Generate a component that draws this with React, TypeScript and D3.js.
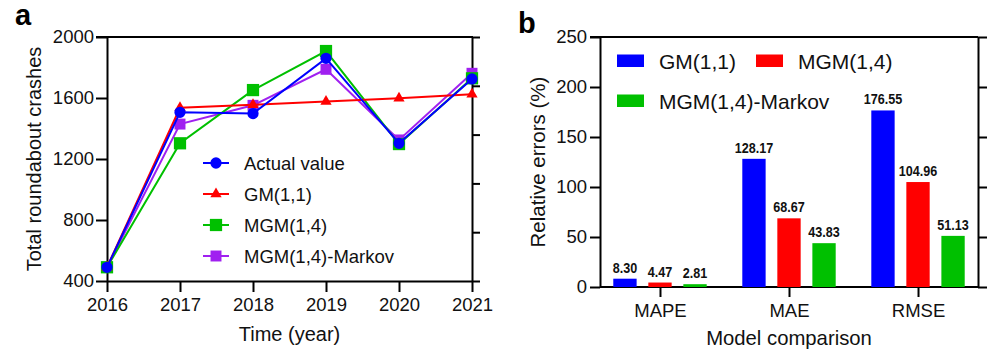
import * as d3 from 'd3';
import React, { useEffect, useRef } from 'react';

// panel a: crashes per year
const years = [2016, 2017, 2018, 2019, 2020, 2021];
const actualValue = [490, 1506, 1498, 1860, 1303, 1725];
const gm11 = [490, 1536, 1556, 1577, 1598, 1624];
const mgm14 = [490, 1303, 1652, 1908, 1298, 1729];
const mgmMarkov = [490, 1429, 1552, 1788, 1325, 1762];
const crashTicks = [400, 800, 1200, 1600, 2000];

// panel b: error metrics
const metrics = ['MAPE', 'MAE', 'RMSE'];
const gmErrors = [8.30, 128.17, 176.55];
const mgmErrors = [4.47, 68.67, 104.96];
const markovErrors = [2.81, 43.83, 51.13];
const errorTicks = [0, 50, 100, 150, 200, 250];

const FONT = "'Liberation Sans', Arial, Helvetica, sans-serif";

const BLUE = '#0000ff';
const RED = '#ff0000';
const GREEN = '#00c000';
const PURPLE = '#a020f0';

export default () => {
    const ref = useRef<any>();

    function styleAxis(g: any, size: number): void {
        g.attr('font-family', FONT);
        g.selectAll('path, line').attr('stroke', '#000').attr('stroke-width', 2);
        g.selectAll('text').attr('font-size', size).attr('font-family', FONT).attr('fill', '#111');
    }

    function drawLines(svg: any): void {
        const x = d3.scaleLinear().domain([2016, 2021]).range([107, 472]);
        const y = d3.scaleLinear().domain([400, 2000]).range([281, 37]);
        const yRight = d3.scaleLinear().domain([0, 5]).range([281, 37]);

        const stage = svg.append('g');

        // top frame + unlabeled right axis
        stage.append('line')
            .attr('x1', x(2016) - 11).attr('x2', x(2021) + 1)
            .attr('y1', y(2000)).attr('y2', y(2000))
            .attr('stroke', '#000').attr('stroke-width', 2);
        stage.append('g')
            .attr('transform', `translate(${x(2021)},0)`)
            .call(d3.axisRight(yRight).ticks(5).tickSize(8).tickSizeOuter(0).tickFormat(() => ''))
            .call((g: any) => styleAxis(g, 18));

        stage.append('g')
            .attr('transform', `translate(${x(2016)},0)`)
            .call(d3.axisLeft(y).tickValues(crashTicks).tickFormat(d3.format('d')).tickSize(11).tickPadding(2).tickSizeOuter(0))
            .call((g: any) => styleAxis(g, 18.5));

        stage.append('g')
            .attr('transform', `translate(0,${y(400)})`)
            .call(d3.axisBottom(x).tickValues(years).tickFormat(d3.format('d')).tickSize(11).tickPadding(6).tickSizeOuter(0))
            .call((g: any) => styleAxis(g, 18.5));

        stage.append('text')
            .attr('transform', `translate(41,${(y(400) + y(2000)) / 2}) rotate(-90)`)
            .attr('text-anchor', 'middle')
            .attr('font-family', FONT).attr('font-size', 20).attr('fill', '#111')
            .text('Total roundabout crashes');
        stage.append('text')
            .attr('x', (x(2016) + x(2021)) / 2).attr('y', 341)
            .attr('text-anchor', 'middle')
            .attr('font-family', FONT).attr('font-size', 20).attr('fill', '#111')
            .text('Time (year)');
        stage.append('text')
            .attr('x', 15).attr('y', 25)
            .attr('font-family', FONT).attr('font-size', 29).attr('font-weight', 'bold')
            .text('a');

        const series = [
            { name: 'Actual value', values: actualValue, color: BLUE, symbol: d3.symbolCircle, size: 100 },
            { name: 'GM(1,1)', values: gm11, color: RED, symbol: d3.symbolTriangle, size: 55 },
            { name: 'MGM(1,4)', values: mgm14, color: GREEN, symbol: d3.symbolSquare, size: 150 },
            { name: 'MGM(1,4)-Markov', values: mgmMarkov, color: PURPLE, symbol: d3.symbolSquare, size: 120 },
        ];

        const line = d3.line<number>().x((d, i) => x(years[i])).y((d) => y(d));

        // draw back to front so the actual value sits on top
        series.slice().reverse().forEach((s) => {
            const g = stage.append('g');
            g.append('path')
                .attr('d', line(s.values))
                .attr('fill', 'none')
                .attr('stroke', s.color)
                .attr('stroke-width', 2);
            g.selectAll('.mark').data(s.values).join('path')
                .attr('class', 'mark')
                .attr('transform', (d: number, i: number) => `translate(${x(years[i])},${y(d)})`)
                .attr('d', d3.symbol().type(s.symbol).size(s.size)())
                .attr('fill', s.color);
        });

        const legend = stage.append('g').attr('transform', 'translate(203,163)');
        series.forEach((s, i) => {
            const row = legend.append('g').attr('transform', `translate(0,${i * 31})`);
            row.append('line').attr('x1', 0).attr('x2', 26).attr('stroke', s.color).attr('stroke-width', 2);
            row.append('path')
                .attr('transform', 'translate(13,0)')
                .attr('d', d3.symbol().type(s.symbol).size(s.size)())
                .attr('fill', s.color);
            row.append('text')
                .attr('x', 41).attr('y', 6.5)
                .attr('font-family', FONT).attr('font-size', 18.5).attr('fill', '#111')
                .text(s.name);
        });
    }

    function drawBars(svg: any): void {
        const y = d3.scaleLinear().domain([0, 250]).range([287, 37]);
        const x0 = d3.scalePoint().domain(metrics).range([600, 978]).padding(0.465);

        const groups = [
            { name: 'GM(1,1)', values: gmErrors, color: BLUE },
            { name: 'MGM(1,4)', values: mgmErrors, color: RED },
            { name: 'MGM(1,4)-Markov', values: markovErrors, color: GREEN },
        ];
        const x1 = d3.scaleBand().domain(groups.map((g) => g.name)).range([-46.7, 46.7]).paddingInner(0.334);

        const stage = svg.append('g');

        stage.append('line')
            .attr('x1', 590).attr('x2', 978)
            .attr('y1', y(250)).attr('y2', y(250))
            .attr('stroke', '#000').attr('stroke-width', 2);
        stage.append('g')
            .attr('transform', 'translate(978,0)')
            .call(d3.axisRight(y).tickValues(errorTicks).tickSize(9).tickSizeOuter(0).tickFormat(() => ''))
            .call((g: any) => styleAxis(g, 18));

        stage.append('g')
            .attr('transform', 'translate(600,0)')
            .call(d3.axisLeft(y).tickValues(errorTicks).tickSize(10).tickPadding(3).tickSizeOuter(0))
            .call((g: any) => styleAxis(g, 18.5));

        const bottom = stage.append('g')
            .attr('transform', `translate(0,${y(0)})`)
            .call(d3.axisBottom(x0).tickSize(10).tickPadding(7).tickSizeOuter(0))
            .call((g: any) => styleAxis(g, 18.5));
        bottom.select('.domain').attr('d', `M600,0H978`);

        stage.append('text')
            .attr('transform', `translate(545,${(y(0) + y(250)) / 2}) rotate(-90)`)
            .attr('text-anchor', 'middle')
            .attr('font-family', FONT).attr('font-size', 20.5).attr('fill', '#111')
            .text('Relative errors (%)');
        stage.append('text')
            .attr('x', 789).attr('y', 345)
            .attr('text-anchor', 'middle')
            .attr('font-family', FONT).attr('font-size', 20.3).attr('fill', '#111')
            .text('Model comparison');
        stage.append('text')
            .attr('x', 518).attr('y', 33)
            .attr('font-family', FONT).attr('font-size', 29).attr('font-weight', 'bold')
            .text('b');

        groups.forEach((grp) => {
            const bw = x1.bandwidth();
            const g = stage.append('g');
            g.selectAll('rect').data(grp.values).join('rect')
                .attr('x', (d: number, i: number) => (x0(metrics[i]) as number) + (x1(grp.name) as number))
                .attr('y', (d: number) => y(d))
                .attr('width', bw)
                .attr('height', (d: number) => y(0) - y(d))
                .attr('fill', grp.color);
            // value labels, squeezed horizontally to mimic a narrow bold face
            g.selectAll('text').data(grp.values).join('text')
                .attr('transform', (d: number, i: number) =>
                    `translate(${(x0(metrics[i]) as number) + (x1(grp.name) as number) + bw / 2},${y(d) - 6}) scale(0.84,1)`)
                .attr('text-anchor', 'middle')
                .attr('font-family', FONT).attr('font-size', 15).attr('font-weight', 'bold').attr('fill', '#111')
                .text((d: number) => d.toFixed(2));
        });

        const legend = stage.append('g');
        const items = [
            { g: groups[0], x: 617, y: 54.5 },
            { g: groups[1], x: 756, y: 54.5 },
            { g: groups[2], x: 617, y: 94.5 },
        ];
        items.forEach((it) => {
            legend.append('rect')
                .attr('x', it.x).attr('y', it.y)
                .attr('width', 27).attr('height', 12.5)
                .attr('fill', it.g.color);
            legend.append('text')
                .attr('x', it.x + 42).attr('y', it.y + 14)
                .attr('font-family', FONT).attr('font-size', 21).attr('fill', '#111')
                .text(it.g.name);
        });
    }

    useEffect(() => {
        const svg = d3.select<any, any>(ref.current);
        svg.selectAll('*').remove();
        drawLines(svg);
        drawBars(svg);
    });

    return (
        <React.Fragment>
            <svg
                ref={ref}
                width={987}
                height={354}
                style={{ position: 'absolute', left: 0, top: 0, background: '#fff' }}
            ></svg>
        </React.Fragment>
    );
};
